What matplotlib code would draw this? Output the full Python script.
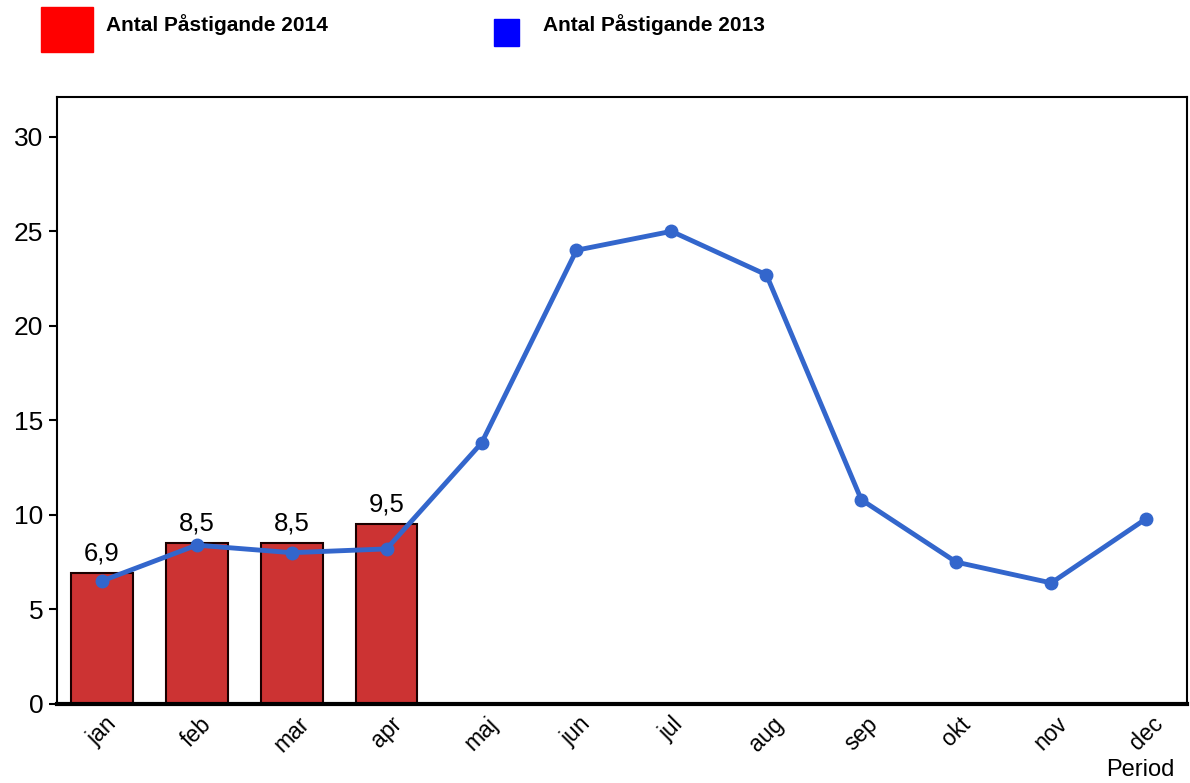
import matplotlib.pyplot as plt
from matplotlib.patches import Rectangle

plt.rcParams['font.family'] = ['Liberation Sans', 'DejaVu Sans']

months = ["jan", "feb", "mar", "apr", "maj", "jun", "jul", "aug", "sep", "okt", "nov", "dec"]
pax_2014 = [6.9, 8.5, 8.5, 9.5]
labels_2014 = ["6,9", "8,5", "8,5", "9,5"]
pax_2013 = [6.5, 8.4, 8.0, 8.2, 13.8, 24.0, 25.0, 22.7, 10.8, 7.5, 6.4, 9.8]

fig = plt.figure(figsize=(11.9, 7.83), dpi=100)
ax = fig.add_axes([0.048, 0.101, 0.9495, 0.775])

x = range(len(months))
bars = ax.bar(range(len(pax_2014)), pax_2014, width=0.65, color="#CC3333",
              edgecolor="#1a0000", linewidth=1.5, zorder=2)
for b, lab in zip(bars, labels_2014):
    ax.text(b.get_x() + b.get_width() / 2, b.get_height() + 0.4, lab,
            ha="center", va="bottom", fontsize=18.5)

ax.plot(x, pax_2013, color="#3366CC", linewidth=3.5, marker="o", markersize=9, zorder=3)

ax.set_xlim(-0.47, 11.43)
ax.set_ylim(0, 32.1)
ax.set_yticks([0, 5, 10, 15, 20, 25, 30])
ax.tick_params(axis="y", labelsize=19, length=6, width=1.5, pad=4)
ax.set_xticks(list(x))
ax.set_xticklabels(months, rotation=45, fontsize=16.5, ha="center")
ax.tick_params(axis="x", length=0, pad=6)
for s in ax.spines.values():
    s.set_linewidth(1.5)
ax.spines["bottom"].set_linewidth(3)

fig.text(0.987, 0.003, "Period", fontsize=17, ha="right", va="bottom")

# legend at top
fig.patches.append(Rectangle((41 / 1190, 1 - 52 / 783), 52 / 1190, 45 / 783,
                             transform=fig.transFigure, color="#FF0000"))
fig.patches.append(Rectangle((494 / 1190, 1 - 46 / 783), 25 / 1190, 27 / 783,
                             transform=fig.transFigure, color="#0000FF"))
fig.text(106 / 1190, 1 - 25 / 783, "Antal Påstigande 2014", fontsize=15,
         fontweight="bold", va="center", ha="left")
fig.text(543 / 1190, 1 - 25 / 783, "Antal Påstigande 2013", fontsize=15,
         fontweight="bold", va="center", ha="left")

fig.savefig("out.png", dpi=100)
